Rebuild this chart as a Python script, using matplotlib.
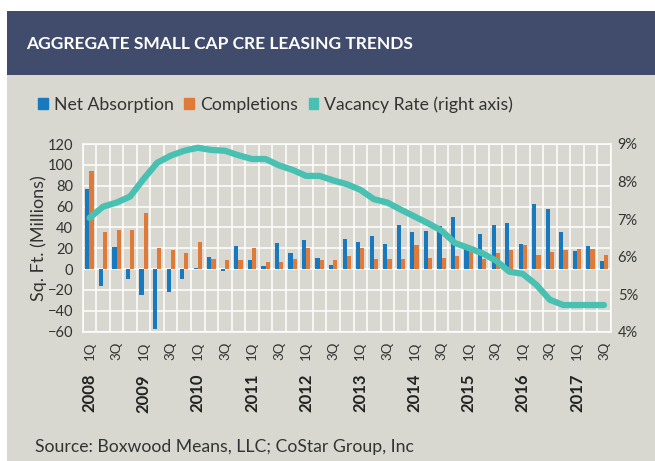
import matplotlib
matplotlib.use("Agg")
import matplotlib.pyplot as plt
from matplotlib.patches import Rectangle, Patch
from matplotlib.ticker import FixedLocator, FuncFormatter
import numpy as np

plt.rcParams['font.family'] = ['Lato', 'DejaVu Sans']

# quarters 2008 1Q .. 2017 3Q
years = ['2008', '2009', '2010', '2011', '2012', '2013', '2014', '2015', '2016', '2017']
quarter_names = ['1Q', '2Q', '3Q', '4Q']
net_absorption = [77, -16, 21, -9, -25, -57, -22, -9, 1, 12, -2, 22, 9, 3, 25, 15,
                  28, 11, 4, 29, 26, 32, 24, 42, 36, 37, 41, 50, 22, 34, 42, 44,
                  24, 62, 58, 36, 17, 22, 8]
completions = [94, 36, 38, 38, 54, 20, 18, 15, 26, 10, 9, 9, 20, 7, 7, 10,
               20, 9, 9, 13, 20, 10, 10, 10, 23, 11, 11, 13, 22, 10, 15, 18,
               23, 14, 16, 18, 19, 19, 14]
vacancy = [7.03, 7.33, 7.44, 7.6, 8.07, 8.5, 8.69, 8.82, 8.9, 8.84, 8.82, 8.7,
           8.6, 8.6, 8.43, 8.31, 8.15, 8.15, 8.03, 7.93, 7.78, 7.53, 7.44, 7.25,
           7.07, 6.89, 6.69, 6.36, 6.23, 6.09, 5.9, 5.6, 5.54, 5.25, 4.85, 4.71,
           4.71, 4.71, 4.71]

quarters = [y + ' ' + q for y in years for q in quarter_names][:len(vacancy)]

BLUE = '#1879be'
ORANGE = '#e07a38'
TEAL = '#48c1b2'
GRAY = '#d8d8d0'
NAVY = '#414c6c'
TXT = '#333333'

W, H = 655, 461
fig = plt.figure(figsize=(W / 100, H / 100), dpi=100)
fig.patch.set_facecolor('white')

# background panel + title banner
fig.add_artist(Rectangle((7 / W, 0), 1, (H - 75) / H, transform=fig.transFigure,
                         facecolor=GRAY, edgecolor='none', zorder=0))
fig.add_artist(Rectangle((7 / W, (H - 75) / H), 1, 64 / H, transform=fig.transFigure,
                         facecolor=NAVY, edgecolor='none', zorder=0))
fig.text(26 / W, 1 - 44 / H, 'AGGREGATE SMALL CAP CRE LEASING TRENDS',
         fontweight='bold', fontsize=12.5, color='white', va='center', ha='left')

ax = fig.add_axes([82.7 / W, (H - 331.7) / H, 528.1 / W, 187.7 / H])
ax.set_facecolor(GRAY)

x = np.arange(len(quarters))
bw = 0.31
ax.bar(x - bw / 2, net_absorption, width=bw, color=BLUE, zorder=3)
ax.bar(x + bw / 2, completions, width=bw, color=ORANGE, zorder=3)

ax.set_xlim(-0.5, len(quarters) - 0.5)
ax.set_ylim(-60, 120)
ax.set_yticks(range(-60, 121, 20))
ax.xaxis.set_minor_locator(FixedLocator(np.arange(-0.5, len(quarters), 1)))
ax.set_xticks(x[::2])
ax.set_xticklabels([q.split()[1] for q in quarters][::2], rotation=90,
                   fontsize=9.5, color=TXT)
ax.grid(True, axis='y', color='white', lw=1.1, zorder=1)
ax.grid(True, axis='x', which='minor', color='white', lw=1.1, zorder=1)
ax.grid(False, axis='x', which='major')
ax.tick_params(axis='both', which='both', length=0)
ax.tick_params(axis='x', pad=7)
ax.tick_params(axis='y', pad=7, labelsize=10.5, labelcolor=TXT)
for s in ax.spines.values():
    s.set_color('white')
    s.set_linewidth(1.1)
ax.set_ylabel('Sq. Ft. (Millions)', fontsize=13, color=TXT)
ax.yaxis.set_label_coords(-0.0676, 0.5)

for i, yr in enumerate(years):
    ax.text(i * 4, -0.225, yr, transform=ax.get_xaxis_transform(), rotation=90,
            ha='center', va='top', fontsize=12, fontweight='bold', color='#222222')

ax2 = ax.twinx()
ax2.plot(x, vacancy, color=TEAL, lw=4.5, solid_capstyle='round',
         solid_joinstyle='round', zorder=4)
ax2.set_ylim(4, 9)
ax2.set_yticks(range(4, 10))
ax2.yaxis.set_major_formatter(FuncFormatter(lambda v, p: '%d%%' % v))
ax2.tick_params(axis='y', length=0, pad=5, labelsize=10.5, labelcolor=TXT)
for s in ax2.spines.values():
    s.set_visible(False)

handles = [Patch(color=BLUE, label='Net Absorption'),
           Patch(color=ORANGE, label='Completions'),
           Patch(color=TEAL, label='Vacancy Rate (right axis)')]
fig.legend(handles=handles, loc='center left', bbox_to_anchor=(22 / W, 1 - 104.5 / H),
           ncol=3, frameon=False, fontsize=12.7, handlelength=0.55, handleheight=0.55,
           handletextpad=0.35, columnspacing=0.6, labelcolor=TXT)

fig.text(35 / W, 1 - 447 / H, 'Source: Boxwood Means, LLC; CoStar Group, Inc',
         fontsize=12.7, color=TXT, va='center', ha='left')

fig.savefig('out.png', dpi=100)
